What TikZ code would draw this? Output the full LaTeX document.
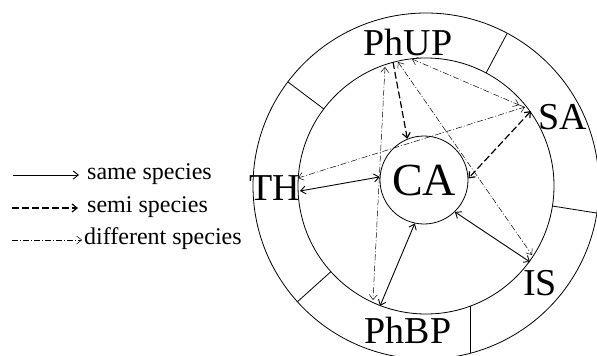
\documentclass[tikz,border=0pt]{standalone}
\usepackage{fontspec}
\setmainfont{Liberation Serif}
\usetikzlibrary{arrows.meta}

\tikzset{
  lbl/.style={font=\fontsize{38}{40}\selectfont, inner sep=0pt},
  legtext/.style={font=\fontsize{24}{26}\selectfont, inner sep=0pt, anchor=west},
  same/.style={line width=0.9pt},
  semi/.style={line width=1.2pt, dash pattern=on 7pt off 3pt},
  diff/.style={line width=0.5pt, dash pattern=on 6pt off 2pt on 1pt off 2pt},
}

\begin{document}
\begin{tikzpicture}[x=1pt,y=-1pt,>={Straight Barb[length=5pt,width=8pt]}]
      \useasboundingbox (0,0) rectangle (597,356);

      % rings
      \coordinate (O) at (426,186);
      \draw[line width=0.8pt] (O) circle[radius=173];
      \draw[line width=0.8pt] (O) circle[radius=128];
      \foreach \a in {-143,-62,9,138}
        \draw[line width=0.8pt] (O) ++(\a:128) -- ++(\a:45);
      \draw[line width=0.6pt] (470,306.2) -- (470,353.3);

      % labels
      \node[draw, circle, line width=0.8pt, minimum size=88pt, inner sep=0pt,
            font=\fontsize{46}{50}\selectfont] (CA) at (424,180) {CA};
      \node[lbl] (PhUP) at (408,43) {PhUP};
      \node[lbl] (SA) at (563,117) {SA};
      \node[lbl] (IS) at (540,283) {IS};
      \node[lbl] (PhBP) at (408,330) {PhBP};
      \node[lbl] (TH) at (275,188) {TH};

      % end points on the inner ring
      \coordinate (THa) at (300,191);
      \coordinate (THb) at (298,178);
      \coordinate (UPa) at (385,67);
      \coordinate (UPb) at (393,62);
      \coordinate (UPc) at (398,62);
      \coordinate (UPd) at (412,59);
      \coordinate (SAa) at (519,105);
      \coordinate (SAb) at (525,107);
      \coordinate (SAc) at (531,111);
      \coordinate (ISa) at (530,262);
      \coordinate (ISb) at (532,255);
      \coordinate (BPa) at (373,300);
      \coordinate (BPb) at (380,306);

      % same species
      \draw[same,<->] (THa) -- (CA.176);
      \draw[same,<->] (CA.-102) -- (BPb);
      \draw[same,<->] (CA.-46) -- (ISa);
      % semi species
      \draw[semi,->] (UPb) -- (CA.112);
      \draw[semi,<->] (SAc) -- (CA.2);
      % different species
      \draw[diff,<->] (UPd) -- (SAa);
      \draw[diff,<->] (THb) -- (SAb);
      \draw[diff,<->] (UPc) -- (ISb);
      \draw[diff,<->] (UPa) -- (BPa);

      % legend
      \node[legtext] (same) at (87,174) {same species};
      \node[legtext] (semi) at (87,207) {semi species};
      \node[legtext] (diff) at (84,239) {different species};
      \draw[same,->] ([xshift=-74pt,yshift=-1pt]same.west) -- ([xshift=-8pt,yshift=-1pt]same.west);
      \draw[semi,->] ([xshift=-75pt,yshift=-1pt]semi.west) -- ([xshift=-9pt,yshift=-1pt]semi.west);
      \draw[diff,->] ([xshift=-72pt,yshift=-1pt]diff.west) -- ([xshift=-2pt,yshift=-1pt]diff.west);
  \end{tikzpicture}
\end{document}
